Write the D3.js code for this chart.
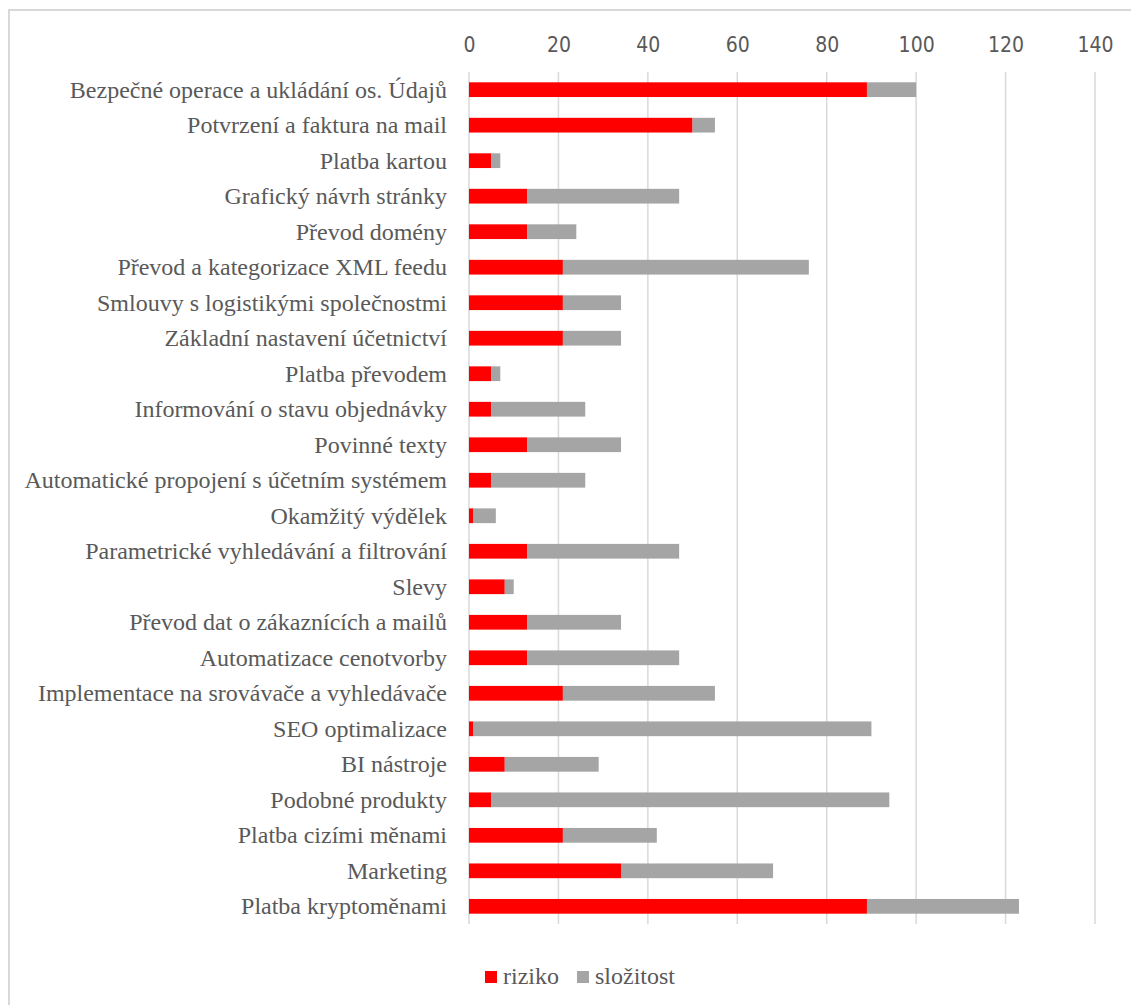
<!DOCTYPE html>
<html>
<head>
<meta charset="utf-8">
<script src="https://cdn.jsdelivr.net/npm/d3@7"></script>
<style>
  body { margin: 0; background: #fff; }
  svg { display: block; }
</style>
</head>
<body>
<svg id="chart"></svg>
<script>
const categories = [
  'Bezpečné operace a ukládání os. Údajů',
  'Potvrzení a faktura na mail',
  'Platba kartou',
  'Grafický návrh stránky',
  'Převod domény',
  'Převod a kategorizace XML feedu',
  'Smlouvy s logistikými společnostmi',
  'Základní nastavení účetnictví',
  'Platba převodem',
  'Informování o stavu objednávky',
  'Povinné texty',
  'Automatické propojení s účetním systémem',
  'Okamžitý výdělek',
  'Parametrické vyhledávání a filtrování',
  'Slevy',
  'Převod dat o zákaznících a mailů',
  'Automatizace cenotvorby',
  'Implementace na srovávače a vyhledávače',
  'SEO optimalizace',
  'BI nástroje',
  'Podobné produkty',
  'Platba cizími měnami',
  'Marketing ',
  'Platba kryptoměnami'
];
const riziko    = [89, 50, 5, 13, 13, 21, 21, 21, 5, 5, 13, 5, 1, 13, 8, 13, 13, 21, 1, 8, 5, 21, 34, 89];
const slozitost = [11, 5, 2, 34, 11, 55, 13, 13, 2, 21, 21, 21, 5, 34, 2, 21, 34, 34, 89, 21, 89, 21, 34, 34];
const seriesNames  = ['riziko', 'složitost'];
const seriesColors = ['#ff0000', '#a5a5a5'];
const xTicks = [0, 20, 40, 60, 80, 100, 120, 140];

const width  = 1131;
const height = 1005;
const plot   = {left: 469, right: 1095, top: 72, bottom: 924};
const serif  = '"Liberation Serif", "Times New Roman", serif';

const svg = d3.select('#chart').attr('width', width).attr('height', height);

// chart frame
svg.append('rect')
  .attr('x', 9).attr('y', 10)
  .attr('width', 1140).attr('height', 1010)
  .attr('fill', '#fff')
  .attr('stroke', '#d9d9d9')
  .attr('stroke-width', 2);

const rows    = categories.map((c, i) => ({cat: c, riziko: riziko[i], 'složitost': slozitost[i]}));
const stacked = d3.stack().keys(seriesNames)(rows);

const x = d3.scaleLinear().domain([0, 140]).range([plot.left, plot.right]);
const y = d3.scaleBand().domain(categories).range([plot.top, plot.bottom]).paddingInner(0.585).paddingOuter(0.29);

// gridlines
svg.append('g')
  .selectAll('line')
  .data(xTicks)
  .join('line')
  .attr('x1', d => x(d)).attr('x2', d => x(d))
  .attr('y1', plot.top).attr('y2', plot.bottom)
  .attr('stroke', '#d9d9d9')
  .attr('stroke-width', 1.5);

// top axis labels
const xAxis = svg.append('g')
  .attr('transform', 'translate(0, 52)')
  .call(d3.axisTop(x).tickValues(xTicks).tickSize(0).tickPadding(0));
xAxis.select('.domain').remove();
xAxis.selectAll('text')
  .attr('fill', '#595959')
  .style('font-family', '"Liberation Sans Narrow", "DejaVu Sans Condensed", sans-serif')
  .style('font-size', '21px');

// bars
svg.append('g')
  .selectAll('g')
  .data(stacked)
  .join('g')
  .attr('fill', (d, i) => seriesColors[i])
  .selectAll('rect')
  .data(d => d)
  .join('rect')
  .attr('x', d => x(d[0]))
  .attr('y', d => y(d.data.cat))
  .attr('width', d => x(d[1]) - x(d[0]))
  .attr('height', y.bandwidth());

// category labels
svg.append('g')
  .selectAll('text')
  .data(categories)
  .join('text')
  .attr('x', 447)
  .attr('y', d => y(d) + y.bandwidth() / 2)
  .attr('dy', '0.33em')
  .attr('text-anchor', 'end')
  .attr('fill', '#595959')
  .style('font-family', serif)
  .style('font-size', '24px')
  .text(d => d);

// legend
const legend  = svg.append('g').attr('transform', 'translate(485, 971)');
const legendX = [0, 92];
seriesNames.forEach((name, i) => {
  const item = legend.append('g').attr('transform', `translate(${legendX[i]}, 0)`);
  item.append('rect').attr('width', 12).attr('height', 12).attr('fill', seriesColors[i]);
  item.append('text')
    .attr('x', 18).attr('y', 13)
    .attr('fill', '#595959')
    .style('font-family', serif)
    .style('font-size', '24px')
    .text(name);
});
</script>
</body>
</html>
